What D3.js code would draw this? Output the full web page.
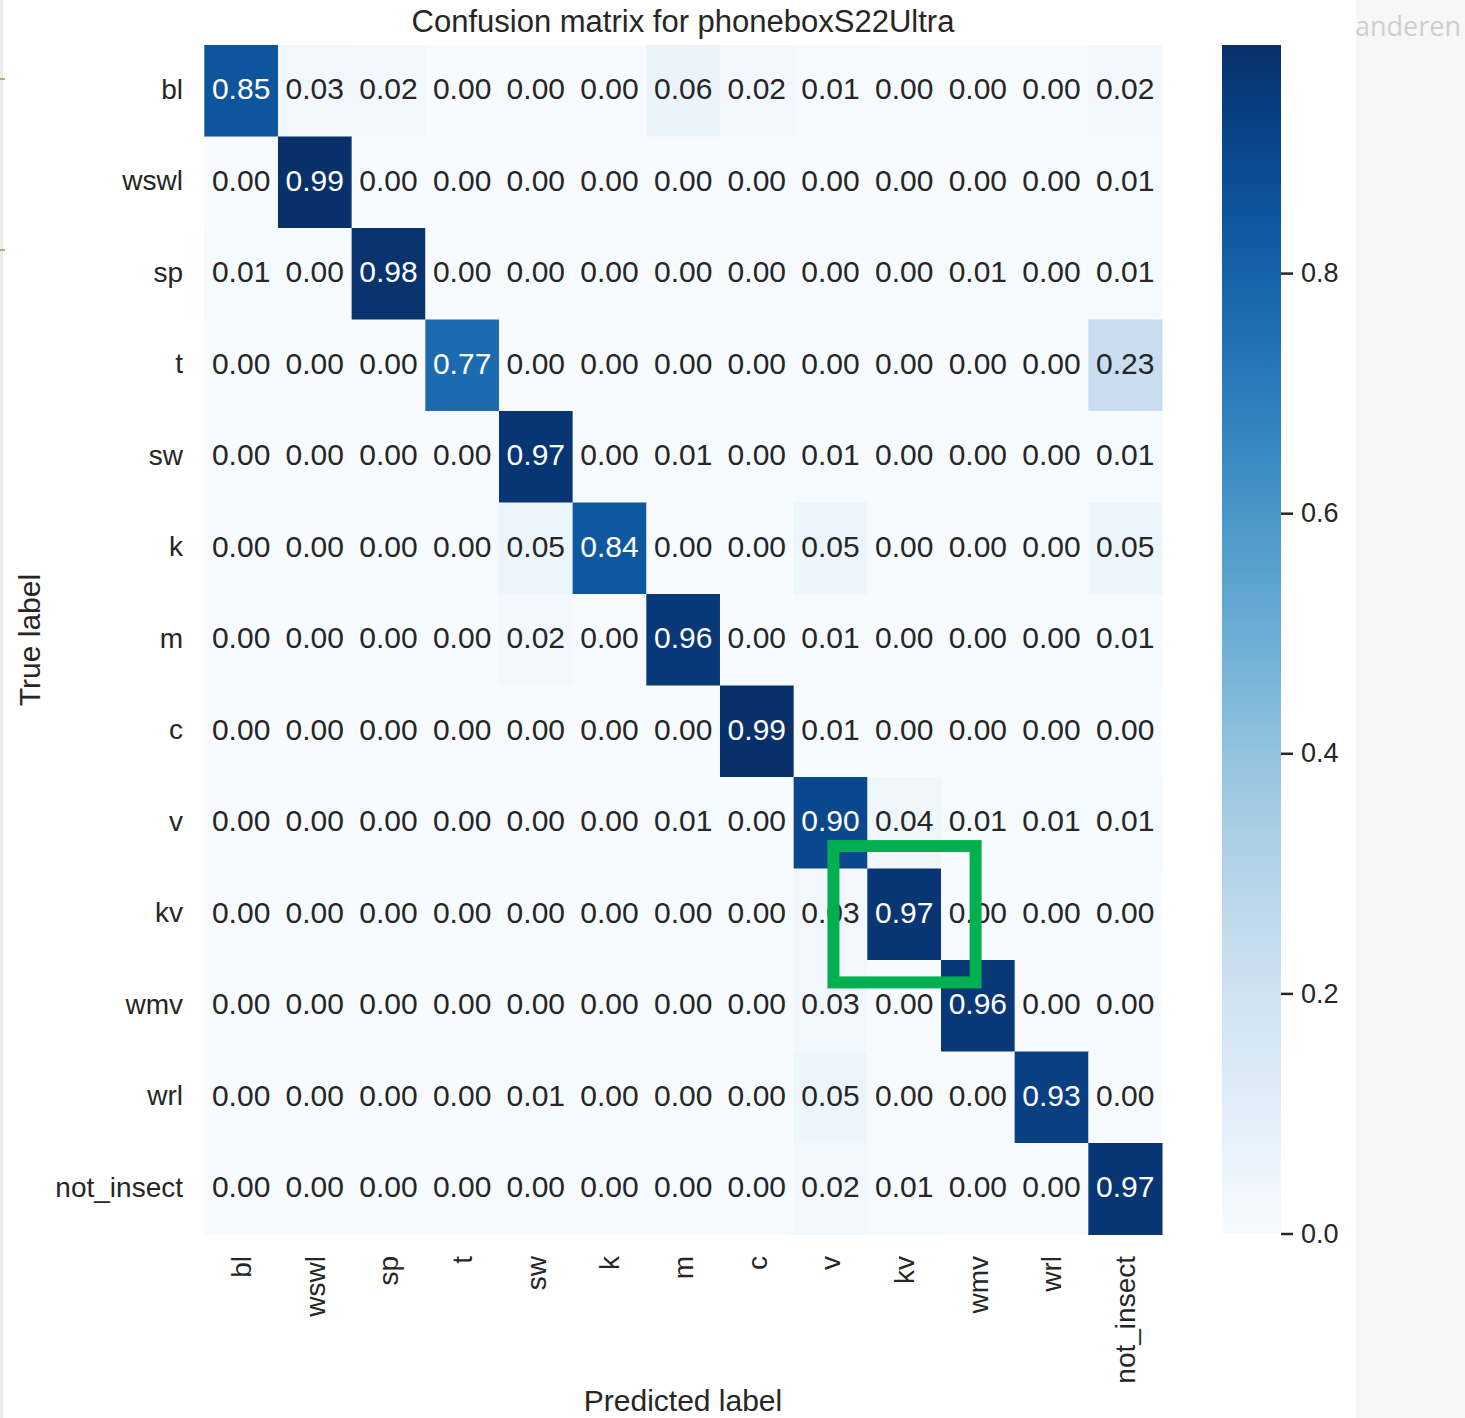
<!DOCTYPE html>
<html>
<head>
<meta charset="utf-8">
<script src="https://cdn.jsdelivr.net/npm/d3@7"></script>
<style>
  body { margin: 0; background: #fff; }
  svg { display: block; font-family: "Liberation Sans", Arial, sans-serif; }
</style>
</head>
<body>
<svg id="chart" width="1465" height="1418"></svg>
<script>
/* data */
const labels = ["bl", "wswl", "sp", "t", "sw", "k", "m", "c", "v", "kv", "wmv", "wrl", "not_insect"];
const rowBl   = [0.85, 0.03, 0.02, 0.00, 0.00, 0.00, 0.06, 0.02, 0.01, 0.00, 0.00, 0.00, 0.02];
const rowWswl = [0.00, 0.99, 0.00, 0.00, 0.00, 0.00, 0.00, 0.00, 0.00, 0.00, 0.00, 0.00, 0.01];
const rowSp   = [0.01, 0.00, 0.98, 0.00, 0.00, 0.00, 0.00, 0.00, 0.00, 0.00, 0.01, 0.00, 0.01];
const rowT    = [0.00, 0.00, 0.00, 0.77, 0.00, 0.00, 0.00, 0.00, 0.00, 0.00, 0.00, 0.00, 0.23];
const rowSw   = [0.00, 0.00, 0.00, 0.00, 0.97, 0.00, 0.01, 0.00, 0.01, 0.00, 0.00, 0.00, 0.01];
const rowK    = [0.00, 0.00, 0.00, 0.00, 0.05, 0.84, 0.00, 0.00, 0.05, 0.00, 0.00, 0.00, 0.05];
const rowM    = [0.00, 0.00, 0.00, 0.00, 0.02, 0.00, 0.96, 0.00, 0.01, 0.00, 0.00, 0.00, 0.01];
const rowC    = [0.00, 0.00, 0.00, 0.00, 0.00, 0.00, 0.00, 0.99, 0.01, 0.00, 0.00, 0.00, 0.00];
const rowV    = [0.00, 0.00, 0.00, 0.00, 0.00, 0.00, 0.01, 0.00, 0.90, 0.04, 0.01, 0.01, 0.01];
const rowKv   = [0.00, 0.00, 0.00, 0.00, 0.00, 0.00, 0.00, 0.00, 0.03, 0.97, 0.00, 0.00, 0.00];
const rowWmv  = [0.00, 0.00, 0.00, 0.00, 0.00, 0.00, 0.00, 0.00, 0.03, 0.00, 0.96, 0.00, 0.00];
const rowWrl  = [0.00, 0.00, 0.00, 0.00, 0.01, 0.00, 0.00, 0.00, 0.05, 0.00, 0.00, 0.93, 0.00];
const rowNot  = [0.00, 0.00, 0.00, 0.00, 0.00, 0.00, 0.00, 0.00, 0.02, 0.01, 0.00, 0.00, 0.97];
const matrix = [rowBl, rowWswl, rowSp, rowT, rowSw, rowK, rowM, rowC, rowV, rowKv, rowWmv, rowWrl, rowNot];
const cbarTicks = [0.0, 0.2, 0.4, 0.6, 0.8];
const vmax = 0.99;
const highlight = "kv";

/* layout */
const plotLeft = 204.3, plotRight = 1162, plotTop = 45, plotBottom = 1234.5;
const svg = d3.select("#chart");

const x = d3.scaleBand().domain(labels).range([plotLeft, plotRight]);
const y = d3.scaleBand().domain(labels).range([plotTop, plotBottom]);
const color = d3.scaleSequential(d3.interpolateBlues).domain([0, vmax]);

// the grey side panel of the slide
svg.append("rect").attr("x", 1356).attr("y", 0).attr("width", 109).attr("height", 1418).attr("fill", "#f7f7f7");
svg.append("text").attr("x", 1355).attr("y", 36).attr("font-family", "'Open Sans', sans-serif")
  .attr("font-size", 27).attr("fill", "#cfcfcf").text("anderen");
svg.append("line").attr("x1", 1.5).attr("x2", 1.5).attr("y1", 0).attr("y2", 1418)
  .attr("stroke", "#ececec").attr("stroke-width", 3);
[79, 250].forEach(function(yy) {
  svg.append("line").attr("x1", 0).attr("x2", 5).attr("y1", yy).attr("y2", yy)
    .attr("stroke", "#70ad47").attr("stroke-width", 1.5);
});

// cells
const cells = [];
matrix.forEach(function(row, i) {
  row.forEach(function(v, j) { cells.push({ r: labels[i], c: labels[j], v: v }); });
});

const g = svg.append("g");
g.selectAll("rect.cell").data(cells).join("rect")
  .attr("class", "cell")
  .attr("x", d => x(d.c)).attr("y", d => y(d.r))
  .attr("width", x.bandwidth() + 0.5).attr("height", y.bandwidth() + 0.5)
  .attr("fill", d => color(d.v));

g.selectAll("text.ann").data(cells).join("text")
  .attr("class", "ann")
  .attr("x", d => x(d.c) + x.bandwidth() / 2)
  .attr("y", d => y(d.r) + y.bandwidth() / 2 + 8.5)
  .attr("text-anchor", "middle")
  .attr("font-size", 30)
  .attr("fill", d => d.v > 0.5 ? "#ffffff" : "#262626")
  .text(d => d.v.toFixed(2));

// tick labels
svg.append("g").selectAll("text").data(labels).join("text")
  .attr("x", 183).attr("y", d => y(d) + y.bandwidth() / 2 + 8)
  .attr("text-anchor", "end").attr("font-size", 28).attr("fill", "#262626")
  .text(d => d);

svg.append("g").selectAll("text").data(labels).join("text")
  .attr("transform", d => `translate(${x(d) + x.bandwidth() / 2 + 10},1256) rotate(-90)`)
  .attr("text-anchor", "end").attr("font-size", 28).attr("fill", "#262626")
  .text(d => d);

// titles
svg.append("text").attr("x", 683).attr("y", 32).attr("text-anchor", "middle")
  .attr("font-size", 31).attr("fill", "#262626").text("Confusion matrix for phoneboxS22Ultra");
svg.append("text").attr("x", 683).attr("y", 1411).attr("text-anchor", "middle")
  .attr("font-size", 30).attr("fill", "#262626").text("Predicted label");
svg.append("text").attr("transform", "translate(40,640) rotate(-90)").attr("text-anchor", "middle")
  .attr("font-size", 30).attr("fill", "#262626").text("True label");

// colorbar
const cb = { x: 1222, w: 59 };
const cy = d3.scaleLinear().domain([0, vmax]).range([1233.5, 45]);
const defs = svg.append("defs");
const grad = defs.append("linearGradient").attr("id", "cbar")
  .attr("x1", 0).attr("y1", 1).attr("x2", 0).attr("y2", 0);
d3.range(0, 1.0001, 0.05).forEach(function(t) {
  grad.append("stop").attr("offset", t).attr("stop-color", color(t * vmax));
});
svg.append("rect").attr("x", cb.x).attr("y", cy(vmax)).attr("width", cb.w)
  .attr("height", cy(0) - cy(vmax)).attr("fill", "url(#cbar)");

const cbAxis = d3.axisRight(cy).tickValues(cbarTicks).tickFormat(d3.format(".1f")).tickSize(12).tickPadding(8);
const ax = svg.append("g").attr("transform", `translate(${cb.x + cb.w},0)`).call(cbAxis);
ax.select(".domain").remove();
ax.selectAll("line").attr("stroke", "#262626").attr("stroke-width", 2.5);
ax.selectAll("text").attr("font-size", 27).attr("fill", "#262626")
  .attr("font-family", "'Liberation Sans', Arial, sans-serif");

// green highlight box round the kv cell
const hx = x(highlight), hy = y(highlight);
svg.append("rect")
  .attr("x", hx - x.bandwidth() * 0.46).attr("y", hy - y.bandwidth() * 0.245)
  .attr("width", x.bandwidth() * 1.93).attr("height", y.bandwidth() * 1.49)
  .attr("fill", "none").attr("stroke", "#00b050").attr("stroke-width", 12);
</script>
</body>
</html>
